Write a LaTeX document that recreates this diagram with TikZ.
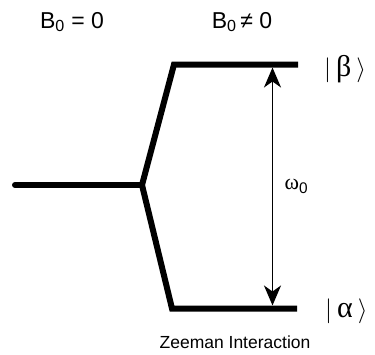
\documentclass[tikz,border=0pt]{standalone}
\usepackage{fontspec}
\setmainfont{Liberation Sans}
\newfontfamily\greekfont{Liberation Serif}
\usepackage{tikz}
\usetikzlibrary{arrows.meta,positioning}

\begin{document}
\begin{tikzpicture}[x=1pt,y=-1pt,
    level/.style={line width=6pt,line join=miter},
    gap/.style={line width=1.7pt,{Stealth[length=20pt,width=17pt,inset=6pt]}-{Stealth[length=20pt,width=17pt,inset=6pt]}},
    big/.style={font=\fontsize{23}{28}\selectfont},
    ket/.style={font=\fontsize{30}{34}\selectfont,anchor=west,inner sep=0pt}]
        \useasboundingbox (0,0) rectangle (375,354);
        % levels
        \coordinate (start) at (15,185);
        \coordinate (split) at (142,185);
        \coordinate (upbend) at (174,64.5);
        \coordinate (upend) at (298,64.5);
        \coordinate (lowbend) at (172,308.5);
        \coordinate (lowend) at (297,308.5);
        \draw[level,line cap=round] (start) -- (split);
        \draw[level] (split) -- (upbend) -- (upend);
        \draw[level] (split) -- (lowbend) -- (lowend);
        % transition
        \coordinate (uptip) at (272.5,67.5);
        \coordinate (lowtip) at (272.5,305.5);
        \draw[gap] (lowtip) -- (uptip) node[midway,right=8pt,font=\fontsize{22}{26}\selectfont] {{\greekfont ω}\textsubscript{0}};
        % labels
        \node[big] (zero) at (72,22) {B\textsubscript{0} = 0};
        \node[big] (nonzero) at (242,22) {B\textsubscript{0}\,≠ 0};
        \node[ket] (beta) at (324,69) {$\Big|$\,{\greekfont β}\,$\rangle$};
        \node[ket] (alpha) at (325,311) {$\Big|$\,{\greekfont α}\,$\rangle$};
        \node[font=\fontsize{17.5}{20}\selectfont] (zeeman) at (235,342) {Zeeman Interaction};
    \end{tikzpicture}
\end{document}
